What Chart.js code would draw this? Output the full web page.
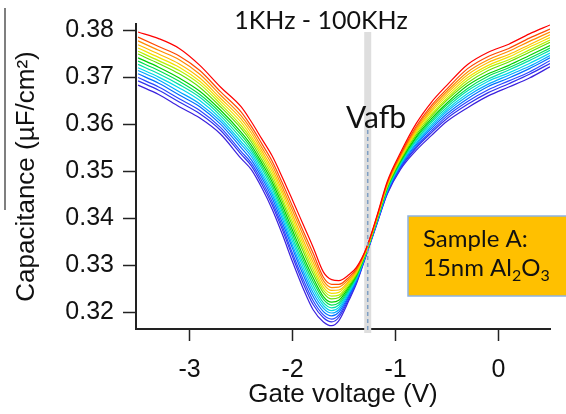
<!DOCTYPE html>
<html lang="en">
<head>
  <meta charset="UTF-8" />
  <title>C-V frequency sweep</title>
  <script src="https://cdn.jsdelivr.net/npm/chart.js"></script>
  <style>
    html, body { margin: 0; padding: 0; background: #fff; }
    #wrap { width: 566px; height: 414px; }
  </style>
</head>
<body>
  <div id="wrap"><canvas id="cv" width="566" height="414"></canvas></div>

  <script>
    // gate voltage grid (V)
    const gateV = [-3.5, -3.3, -3.1, -2.9, -2.7, -2.5, -2.4, -2.3, -2.2, -2.1, -2.0, -1.9, -1.8, -1.7, -1.62,
                   -1.55, -1.45, -1.38, -1.28, -1.18, -1.08, -0.95, -0.8, -0.65, -0.5, -0.3, -0.1, 0.1, 0.3, 0.5];

    // capacitance (uF/cm2), 1 kHz (red) ... 100 kHz (blue)
    const c01 = [0.3796, 0.3782, 0.3761, 0.3725, 0.3679, 0.3637, 0.3605, 0.3569, 0.3533, 0.3487, 0.3438, 0.3388, 0.3338, 0.3285, 0.3269, 0.3267, 0.3280, 0.3295, 0.3338, 0.3405, 0.3478, 0.3540, 0.3601, 0.3647, 0.3683, 0.3727, 0.3753, 0.3770, 0.3792, 0.3811];
    const c02 = [0.3785, 0.3765, 0.3745, 0.3714, 0.3669, 0.3626, 0.3595, 0.3559, 0.3522, 0.3475, 0.3425, 0.3374, 0.3325, 0.3274, 0.3259, 0.3259, 0.3275, 0.3292, 0.3337, 0.3403, 0.3475, 0.3536, 0.3595, 0.3640, 0.3675, 0.3718, 0.3744, 0.3761, 0.3783, 0.3802];
    const c03 = [0.3777, 0.3757, 0.3737, 0.3706, 0.3662, 0.3618, 0.3588, 0.3551, 0.3514, 0.3466, 0.3416, 0.3365, 0.3315, 0.3267, 0.3252, 0.3253, 0.3271, 0.3289, 0.3336, 0.3402, 0.3473, 0.3534, 0.3591, 0.3635, 0.3670, 0.3711, 0.3737, 0.3755, 0.3776, 0.3796];
    const c04 = [0.3769, 0.3749, 0.3728, 0.3698, 0.3655, 0.3611, 0.3581, 0.3544, 0.3506, 0.3458, 0.3407, 0.3355, 0.3306, 0.3260, 0.3246, 0.3247, 0.3267, 0.3287, 0.3335, 0.3401, 0.3472, 0.3531, 0.3587, 0.3630, 0.3665, 0.3705, 0.3731, 0.3748, 0.3769, 0.3790];
    const c05 = [0.3762, 0.3742, 0.3721, 0.3691, 0.3649, 0.3604, 0.3574, 0.3538, 0.3499, 0.3451, 0.3399, 0.3347, 0.3298, 0.3253, 0.3240, 0.3242, 0.3264, 0.3285, 0.3334, 0.3400, 0.3470, 0.3529, 0.3584, 0.3626, 0.3660, 0.3699, 0.3725, 0.3743, 0.3764, 0.3784];
    const c06 = [0.3755, 0.3735, 0.3714, 0.3685, 0.3643, 0.3597, 0.3568, 0.3532, 0.3492, 0.3443, 0.3391, 0.3339, 0.3290, 0.3247, 0.3234, 0.3236, 0.3261, 0.3282, 0.3333, 0.3399, 0.3468, 0.3527, 0.3581, 0.3621, 0.3655, 0.3694, 0.3720, 0.3737, 0.3758, 0.3779];
    const c07 = [0.3749, 0.3729, 0.3707, 0.3678, 0.3637, 0.3591, 0.3562, 0.3525, 0.3485, 0.3436, 0.3383, 0.3331, 0.3282, 0.3241, 0.3228, 0.3231, 0.3257, 0.3280, 0.3332, 0.3398, 0.3467, 0.3525, 0.3577, 0.3617, 0.3651, 0.3688, 0.3714, 0.3732, 0.3753, 0.3774];
    const c08 = [0.3741, 0.3721, 0.3698, 0.3670, 0.3630, 0.3583, 0.3555, 0.3518, 0.3478, 0.3428, 0.3374, 0.3321, 0.3273, 0.3233, 0.3221, 0.3225, 0.3254, 0.3278, 0.3331, 0.3397, 0.3465, 0.3522, 0.3573, 0.3612, 0.3645, 0.3682, 0.3707, 0.3725, 0.3746, 0.3767];
    const c09 = [0.3734, 0.3714, 0.3691, 0.3663, 0.3624, 0.3577, 0.3549, 0.3512, 0.3471, 0.3420, 0.3366, 0.3313, 0.3265, 0.3227, 0.3215, 0.3220, 0.3250, 0.3276, 0.3330, 0.3396, 0.3463, 0.3520, 0.3570, 0.3608, 0.3641, 0.3676, 0.3702, 0.3720, 0.3740, 0.3762];
    const c10 = [0.3727, 0.3707, 0.3684, 0.3657, 0.3618, 0.3570, 0.3543, 0.3506, 0.3464, 0.3413, 0.3358, 0.3305, 0.3257, 0.3220, 0.3209, 0.3215, 0.3247, 0.3274, 0.3329, 0.3395, 0.3461, 0.3518, 0.3566, 0.3604, 0.3636, 0.3671, 0.3696, 0.3715, 0.3735, 0.3757];
    const c11 = [0.3720, 0.3700, 0.3677, 0.3650, 0.3612, 0.3563, 0.3537, 0.3499, 0.3457, 0.3406, 0.3350, 0.3297, 0.3249, 0.3214, 0.3203, 0.3210, 0.3244, 0.3272, 0.3329, 0.3394, 0.3460, 0.3516, 0.3563, 0.3599, 0.3631, 0.3665, 0.3691, 0.3709, 0.3729, 0.3751];
    const c12 = [0.3714, 0.3694, 0.3669, 0.3643, 0.3606, 0.3557, 0.3531, 0.3493, 0.3451, 0.3399, 0.3342, 0.3289, 0.3241, 0.3208, 0.3198, 0.3205, 0.3241, 0.3269, 0.3328, 0.3393, 0.3458, 0.3514, 0.3559, 0.3595, 0.3627, 0.3660, 0.3685, 0.3704, 0.3723, 0.3746];
    const c13 = [0.3707, 0.3687, 0.3662, 0.3637, 0.3600, 0.3550, 0.3524, 0.3487, 0.3444, 0.3391, 0.3335, 0.3281, 0.3233, 0.3201, 0.3192, 0.3200, 0.3237, 0.3267, 0.3327, 0.3392, 0.3457, 0.3512, 0.3556, 0.3591, 0.3622, 0.3654, 0.3680, 0.3698, 0.3718, 0.3741];
    const c14 = [0.3699, 0.3679, 0.3654, 0.3629, 0.3593, 0.3542, 0.3517, 0.3480, 0.3436, 0.3383, 0.3325, 0.3271, 0.3224, 0.3194, 0.3185, 0.3194, 0.3234, 0.3265, 0.3326, 0.3390, 0.3455, 0.3509, 0.3552, 0.3586, 0.3617, 0.3648, 0.3673, 0.3692, 0.3711, 0.3735];
    const c15 = [0.3692, 0.3672, 0.3647, 0.3622, 0.3587, 0.3536, 0.3511, 0.3473, 0.3429, 0.3376, 0.3318, 0.3263, 0.3216, 0.3188, 0.3179, 0.3189, 0.3230, 0.3263, 0.3325, 0.3389, 0.3453, 0.3507, 0.3549, 0.3582, 0.3612, 0.3642, 0.3667, 0.3686, 0.3706, 0.3729];
    const c16 = [0.3683, 0.3663, 0.3637, 0.3613, 0.3579, 0.3527, 0.3503, 0.3465, 0.3420, 0.3366, 0.3307, 0.3252, 0.3205, 0.3179, 0.3171, 0.3182, 0.3226, 0.3260, 0.3324, 0.3388, 0.3451, 0.3504, 0.3544, 0.3576, 0.3606, 0.3635, 0.3660, 0.3679, 0.3698, 0.3722];

    const curves = [c01, c02, c03, c04, c05, c06, c07, c08, c09, c10, c11, c12, c13, c14, c15, c16];

    const lineColors = ['#ff0000', '#ff4a00', '#ff8c00', '#ffbb00', '#f2e000', '#b8f000', '#66e000', '#00d000',
                        '#00e050', '#00e0a8', '#00d8e8', '#00a8ff', '#0070ff', '#2848ff', '#3030ee', '#3a20dd'];

    const xTicks = [-3, -2, -1, 0];
    const yTicks = [0.32, 0.33, 0.34, 0.35, 0.36, 0.37, 0.38];
    const vafb = -1.27;

    const axisFont = { family: 'Liberation Sans, Arial, sans-serif', size: 25 };
    const noteFont = 'Lato, "Open Sans", sans-serif';

    // band, dashed Vafb marker, labels and sample box
    const extras = {
      id: 'extras',
      beforeDatasetsDraw(chart) {
        const { ctx, chartArea, scales: { x } } = chart;
        const px = x.getPixelForValue(vafb);
        ctx.save();
        ctx.fillStyle = '#dedede';
        ctx.fillRect(px - 3.5, 32, 7, chartArea.bottom + 4 - 32);
        ctx.restore();
      },
      afterDatasetsDraw(chart) {
        const { ctx, chartArea, scales: { x } } = chart;
        const px = x.getPixelForValue(vafb);
        ctx.save();

        ctx.strokeStyle = '#7f9fc4';
        ctx.lineWidth = 1.5;
        ctx.setLineDash([4, 3]);
        ctx.beginPath();
        ctx.moveTo(px, 130);
        ctx.lineTo(px, chartArea.bottom + 3);
        ctx.stroke();
        ctx.setLineDash([]);

        // stray rule on the left edge
        ctx.strokeStyle = '#555';
        ctx.lineWidth = 1.5;
        ctx.beginPath();
        ctx.moveTo(5, 8);
        ctx.lineTo(5, 210);
        ctx.stroke();

        ctx.fillStyle = '#111';
        ctx.textBaseline = 'alphabetic';
        ctx.textAlign = 'center';
        ctx.font = '25px ' + noteFont;
        ctx.fillText('1KHz - 100KHz', 321, 29);
        ctx.font = '30px ' + noteFont;
        ctx.fillText('Vafb', 376, 128);

        // sample box
        ctx.fillStyle = '#ffc000';
        ctx.fillRect(408, 216, 160, 80);
        ctx.strokeStyle = '#8db3e2';
        ctx.lineWidth = 1.5;
        ctx.strokeRect(408, 216, 160, 80);

        ctx.fillStyle = '#111';
        ctx.textAlign = 'left';
        ctx.font = '24px ' + noteFont;
        ctx.fillText('Sample A:', 423, 247);
        let cx = 423;
        const part = (t, size, dy) => {
          ctx.font = size + 'px ' + noteFont;
          ctx.fillText(t, cx, 276 + dy);
          cx += ctx.measureText(t).width;
        };
        part('15nm Al', 24, 0);
        part('2', 16, 5);
        part('O', 24, 0);
        part('3', 16, 5);

        ctx.restore();
      }
    };

    new Chart(document.getElementById('cv'), {
      type: 'line',
      data: {
        datasets: curves.map((c, i) => ({
          data: c.map((v, j) => ({ x: gateV[j], y: v })),
          borderColor: lineColors[i],
          borderWidth: 1.2,
          pointRadius: 0,
          cubicInterpolationMode: 'monotone',
          fill: false
        }))
      },
      options: {
        responsive: false,
        animation: false,
        events: [],
        layout: { padding: { top: 24, right: 16, left: 0, bottom: 0 } },
        plugins: { legend: { display: false }, tooltip: { enabled: false } },
        scales: {
          x: {
            type: 'linear',
            min: -3.52,
            max: 0.5,
            afterBuildTicks: s => { s.ticks = xTicks.map(v => ({ value: v })); },
            afterFit: s => { s.height = 85; },
            ticks: { font: axisFont, color: '#111', padding: 14, callback: v => v.toFixed(0) },
            grid: { drawOnChartArea: false, tickLength: 12, tickColor: '#222', tickWidth: 1.5 },
            border: { color: '#222', width: 2 },
            title: {
              display: true, text: 'Gate voltage (V)', color: '#111',
              font: { family: axisFont.family, size: 26 }, padding: { top: 0, bottom: 4 }
            }
          },
          y: {
            min: 0.3164,
            max: 0.3813,
            afterBuildTicks: s => { s.ticks = yTicks.map(v => ({ value: v })); },
            afterFit: s => { s.width = 136; },
            ticks: { font: axisFont, color: '#111', padding: 9, callback: v => v.toFixed(2) },
            grid: { drawOnChartArea: false, tickLength: 13, tickColor: '#222', tickWidth: 1.5 },
            border: { color: '#222', width: 2 },
            title: {
              display: true, text: 'Capacitance (µF/cm²)', color: '#111',
              font: { family: axisFont.family, size: 26 }, padding: { top: 11, bottom: 0 }
            }
          }
        }
      },
      plugins: [extras]
    });
  </script>
</body>
</html>
